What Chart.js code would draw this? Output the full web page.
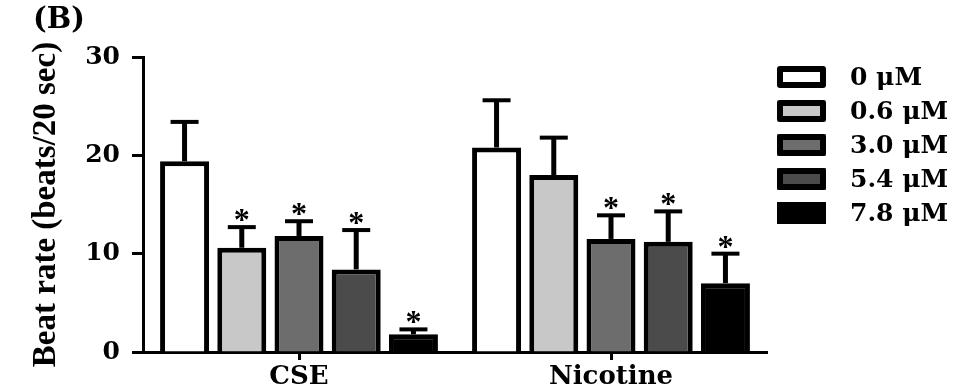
<!DOCTYPE html>
<html>
<head>
<meta charset="utf-8">
<script src="https://cdn.jsdelivr.net/npm/chart.js@4/dist/chart.umd.min.js"></script>
<style>
  html, body { margin: 0; padding: 0; background: #fff; }
  #wrap { width: 974px; height: 392px; }
</style>
</head>
<body>
<div id="wrap"><canvas id="beatChart" width="974" height="392"></canvas></div>
<script>
// groups on the x axis
const categories = ["CSE", "Nicotine"];
// legend / dose labels
const doseLabels = ["0 \u03bcM", "0.6 \u03bcM", "3.0 \u03bcM", "5.4 \u03bcM", "7.8 \u03bcM"];

// mean beat rate per dose, [CSE, Nicotine]
const dose0  = [19.4, 20.8];
const dose06 = [10.6, 18.0];
const dose30 = [11.8, 11.5];
const dose54 = [8.4, 11.2];
const dose78 = [1.8, 7.0];

// upper error bar length per dose, [CSE, Nicotine]
const err0  = [4.0, 4.8];
const err06 = [2.1, 3.8];
const err30 = [1.5, 2.4];
const err54 = [4.0, 3.1];
const err78 = [0.5, 3.0];

// significance marks (*) per dose, [CSE, Nicotine]
const sig0  = [false, false];
const sig06 = [true, false];
const sig30 = [true, true];
const sig54 = [true, true];
const sig78 = [true, true];

const yTicks = [0, 10, 20, 30];

const fills = ["#ffffff", "#c8c8c8", "#6d6d6d", "#4b4b4b", "#000000"];
const SERIF_BOLD = "'DejaVu Serif', serif";

const means = [dose0, dose06, dose30, dose54, dose78];
const errs = [err0, err06, err30, err54, err78];
const sigs = [sig0, sig06, sig30, sig54, sig78];

// error bars + asterisks drawn on top of the bars
const errorBarPlugin = {
  id: "errorBars",
  afterDatasetsDraw(chart) {
    const ctx = chart.ctx;
    const yScale = chart.scales.y;
    ctx.save();
    ctx.strokeStyle = "#000";
    ctx.fillStyle = "#000";
    ctx.lineCap = "butt";
    chart.data.datasets.forEach((ds, i) => {
      const meta = chart.getDatasetMeta(i);
      meta.data.forEach((bar, j) => {
        const top = yScale.getPixelForValue(ds.data[j] + ds.errUp[j]);
        ctx.lineWidth = 5;
        ctx.beginPath();
        ctx.moveTo(bar.x, bar.y);
        ctx.lineTo(bar.x, top);
        ctx.stroke();
        ctx.lineWidth = 4;
        ctx.beginPath();
        ctx.moveTo(bar.x - 14, top);
        ctx.lineTo(bar.x + 14, top);
        ctx.stroke();
        if (ds.sig[j]) {
          ctx.font = "bold 32px 'Liberation Serif', serif";
          ctx.textAlign = "center";
          ctx.textBaseline = "alphabetic";
          ctx.fillText("*", bar.x, top + 3);
        }
      });
    });
    ctx.restore();
  }
};

// panel letter and legend on the right
const decorPlugin = {
  id: "decor",
  afterDraw(chart) {
    const ctx = chart.ctx;
    ctx.save();
    ctx.fillStyle = "#000";
    ctx.font = "bold 29px " + SERIF_BOLD;
    ctx.textAlign = "center";
    ctx.textBaseline = "middle";
    ctx.fillText("(B)", 59, 20);

    const boxX = 777, boxW = 49, boxH = 22, top0 = 66, step = 34, bw = 6;
    chart.data.datasets.forEach((ds, i) => {
      const y = top0 + i * step;
      ctx.fillStyle = ds.backgroundColor;
      ctx.fillRect(boxX, y, boxW, boxH);
      ctx.lineWidth = bw;
      ctx.lineJoin = "round";
      ctx.strokeStyle = "#000";
      ctx.strokeRect(boxX + bw / 2, y + bw / 2, boxW - bw, boxH - bw);
      ctx.fillStyle = "#000";
      ctx.textAlign = "left";
      ctx.textBaseline = "middle";
      ctx.font = "bold 25px " + SERIF_BOLD;
      ctx.fillText(ds.label, 850, y + boxH / 2 + 1);
    });
    ctx.restore();
  }
};

const datasets = doseLabels.map((label, i) => ({
  label: label,
  data: means[i],
  errUp: errs[i],
  sig: sigs[i],
  backgroundColor: fills[i],
  borderColor: "#000",
  borderWidth: 5,
  borderSkipped: "bottom",
  categoryPercentage: 0.917,
  barPercentage: 0.856
}));

new Chart(document.getElementById("beatChart"), {
  type: "bar",
  data: { labels: categories, datasets: datasets },
  plugins: [errorBarPlugin, decorPlugin],
  options: {
    responsive: false,
    animation: false,
    devicePixelRatio: 1,
    layout: { padding: { top: 57, right: 207, left: 0, bottom: 0 } },
    plugins: {
      legend: { display: false },
      tooltip: { enabled: false }
    },
    scales: {
      x: {
        offset: true,
        afterFit(scale) { scale.height = 40; },
        grid: {
          offset: false,
          drawOnChartArea: false,
          tickLength: 8,
          tickWidth: 3,
          tickColor: "#000"
        },
        border: { color: "#000", width: 3 },
        ticks: {
          color: "#000",
          padding: 2,
          font: { family: SERIF_BOLD, size: 26, weight: "bold" }
        }
      },
      y: {
        min: 0,
        max: 30,
        afterFit(scale) { scale.width = 143; },
        afterBuildTicks(scale) { scale.ticks = yTicks.map(v => ({ value: v })); },
        grid: {
          drawOnChartArea: false,
          tickLength: 11,
          tickWidth: 3,
          tickColor: "#000"
        },
        border: { color: "#000", width: 3 },
        ticks: {
          color: "#000",
          padding: 12,
          font: { family: SERIF_BOLD, size: 25, weight: "bold" }
        },
        title: {
          display: true,
          text: "Beat rate (beats/20 sec)",
          color: "#000",
          padding: { top: 27, bottom: 0 },
          font: { family: "'Liberation Serif', serif", size: 33, weight: "bold" }
        }
      }
    }
  }
});
</script>
</body>
</html>
